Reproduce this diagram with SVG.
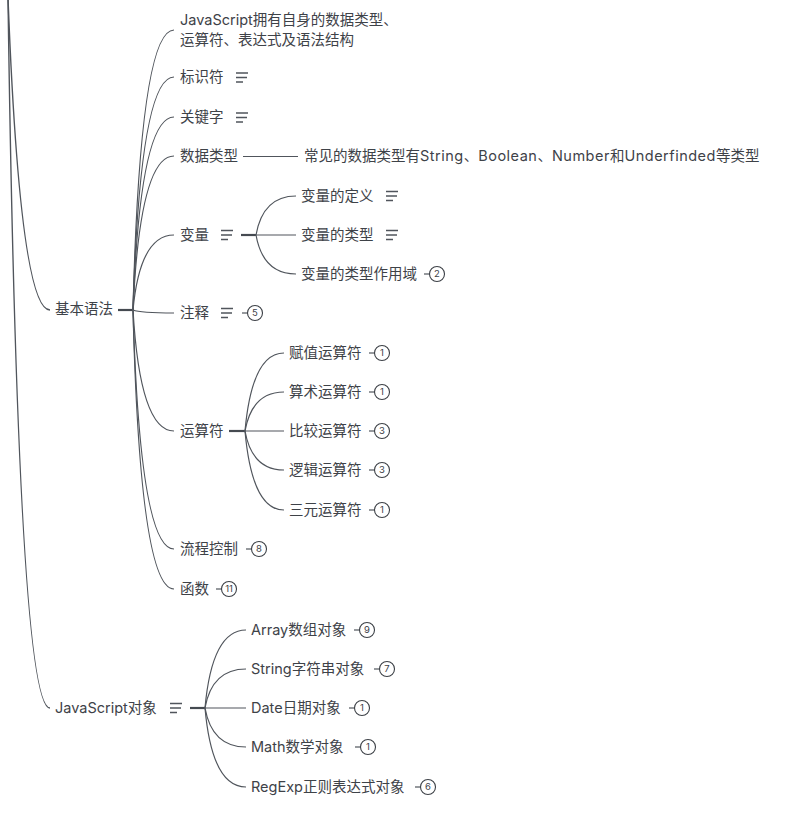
<svg xmlns="http://www.w3.org/2000/svg" width="786" height="835" viewBox="0 0 786 835">
<style>
text{font-family:"Inter","Noto Sans CJK SC",sans-serif;font-size:14.5px;fill:#3e4248}
.l{letter-spacing:0.5px}
.c{fill:none;stroke:#50555c;stroke-width:1.2}
.t{fill:none;stroke:#454a51;stroke-width:2.2}
.n{fill:none;stroke:#50555c;stroke-width:1.3}
.b circle{fill:#fff;stroke:#3c4046;stroke-width:1.1}
.b text{font-size:9.5px;text-anchor:middle}
</style>
<defs>
<g id="note"><path class="n" d="M0 -4.5H12M0 0H11M0 4.5H7"/></g>
</defs>
<g id="connectors">
<path class="c" style="stroke-width:1.4" d="M8 -2Q20 310 50 310"/>
<path class="c" style="stroke-width:1.4" d="M8 -2Q18 708 50 708"/>
<path class="t" d="M118 310H133"/>
<path class="c" d="M133 310Q140 30 174 30"/>
<path class="c" d="M133 310Q140 77 174 77"/>
<path class="c" d="M133 310Q140 117 174 117"/>
<path class="c" d="M133 310Q140 156 174 156"/>
<path class="c" d="M133 310Q140 235 174 235"/>
<path class="c" d="M133 310Q140 313 174 313"/>
<path class="c" d="M133 310Q140 431 174 431"/>
<path class="c" d="M133 310Q140 549 174 549"/>
<path class="c" d="M133 310Q140 589 174 589"/>
<path class="c" d="M243 156.5H298"/>
<path class="t" d="M241 235H256"/>
<path class="c" d="M256 235Q263 196 296 196"/>
<path class="c" d="M256 235H296"/>
<path class="c" d="M256 235Q263 274 296 274"/>
<path class="t" d="M229 431H245"/>
<path class="c" d="M245 431Q252 353 284 353"/>
<path class="c" d="M245 431Q252 392 284 392"/>
<path class="c" d="M245 431H284"/>
<path class="c" d="M245 431Q252 470 284 470"/>
<path class="c" d="M245 431Q252 510 284 510"/>
<path class="t" d="M190 708H205"/>
<path class="c" d="M205 708Q212 630 246 630"/>
<path class="c" d="M205 708Q212 669 246 669"/>
<path class="c" d="M205 708H246"/>
<path class="c" d="M205 708Q212 747 246 747"/>
<path class="c" d="M205 708Q212 787 246 787"/>
</g>
<g id="n-jibenyufa"><text x="55" y="314">基本语法</text></g>
<g id="n-jsobj"><text x="55" y="713">JavaScript对象</text><use href="#note" x="170" y="708"/></g>
<g id="n-intro"><text x="180" y="25">JavaScript拥有自身的数据类型、</text><text x="180" y="45">运算符、表达式及语法结构</text></g>
<g id="n-biaoshifu"><text x="180" y="82">标识符</text><use href="#note" x="236" y="77.5"/></g>
<g id="n-guanjianzi"><text x="180" y="122">关键字</text><use href="#note" x="236" y="117.5"/></g>
<g id="n-shujuleixing"><text x="180" y="161">数据类型</text></g>
<g id="n-changjian"><text x="304" y="161">常见的数据类型有<tspan class="l">String</tspan>、<tspan class="l">Boolean</tspan>、<tspan class="l">Number</tspan>和<tspan class="l">Underfinded</tspan>等类型</text></g>
<g id="n-bianliang"><text x="180" y="240">变量</text><use href="#note" x="221" y="235"/></g>
<g id="n-bl-def"><text x="301" y="201">变量的定义</text><use href="#note" x="386" y="196"/></g>
<g id="n-bl-type"><text x="301" y="240">变量的类型</text><use href="#note" x="386" y="235"/></g>
<g id="n-bl-scope"><text x="301" y="279">变量的类型作用域</text><g class="b"><path class="c" d="M424 274H429"/><circle cx="437" cy="274" r="7.5"/><text x="437" y="277.4">2</text></g></g>
<g id="n-zhushi"><text x="180" y="318">注释</text><use href="#note" x="221" y="313"/><g class="b"><path class="c" d="M242 313H247"/><circle cx="255" cy="313" r="7.5"/><text x="255" y="316.4">5</text></g></g>
<g id="n-yunsuanfu"><text x="180" y="436">运算符</text></g>
<g id="n-fuzhi"><text x="289" y="358">赋值运算符</text><g class="b"><path class="c" d="M369 353H374"/><circle cx="382" cy="353" r="7.5"/><text x="382" y="356.4">1</text></g></g>
<g id="n-suanshu"><text x="289" y="397">算术运算符</text><g class="b"><path class="c" d="M369 392H374"/><circle cx="382" cy="392" r="7.5"/><text x="382" y="395.4">1</text></g></g>
<g id="n-bijiao"><text x="289" y="436">比较运算符</text><g class="b"><path class="c" d="M369 431H374"/><circle cx="382" cy="431" r="7.5"/><text x="382" y="434.4">3</text></g></g>
<g id="n-luoji"><text x="289" y="475">逻辑运算符</text><g class="b"><path class="c" d="M369 470H374"/><circle cx="382" cy="470" r="7.5"/><text x="382" y="473.4">3</text></g></g>
<g id="n-sanyuan"><text x="289" y="515">三元运算符</text><g class="b"><path class="c" d="M369 510H374"/><circle cx="382" cy="510" r="7.5"/><text x="382" y="513.4">1</text></g></g>
<g id="n-liucheng"><text x="180" y="554">流程控制</text><g class="b"><path class="c" d="M246 549H251"/><circle cx="259" cy="549" r="7.5"/><text x="259" y="552.4">8</text></g></g>
<g id="n-hanshu"><text x="180" y="594">函数</text><g class="b"><path class="c" d="M216 589H221"/><circle cx="229" cy="589" r="7.5"/><text x="229" y="592.4">11</text></g></g>
<g id="n-array"><text x="251" y="635">Array数组对象</text><g class="b"><path class="c" d="M354 630H359"/><circle cx="367" cy="630" r="7.5"/><text x="367" y="633.4">9</text></g></g>
<g id="n-string"><text x="251" y="674">String字符串对象</text><g class="b"><path class="c" d="M374 669H379"/><circle cx="387" cy="669" r="7.5"/><text x="387" y="672.4">7</text></g></g>
<g id="n-date"><text x="251" y="713">Date日期对象</text><g class="b"><path class="c" d="M349 708H354"/><circle cx="362" cy="708" r="7.5"/><text x="362" y="711.4">1</text></g></g>
<g id="n-math"><text x="251" y="752">Math数学对象</text><g class="b"><path class="c" d="M355 747H360"/><circle cx="368" cy="747" r="7.5"/><text x="368" y="750.4">1</text></g></g>
<g id="n-regexp"><text x="251" y="792">RegExp正则表达式对象</text><g class="b"><path class="c" d="M415 787H420"/><circle cx="428" cy="787" r="7.5"/><text x="428" y="790.4">6</text></g></g>
</svg>
